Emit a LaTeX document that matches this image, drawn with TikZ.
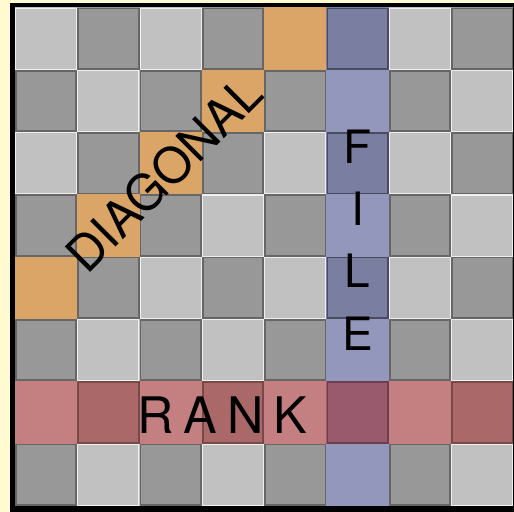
\documentclass[tikz,border=0pt]{standalone}
\usepackage{fontspec}
\setsansfont{TeX Gyre Heros}
\usepackage{xcolor}
\usepackage{tikz}
\usetikzlibrary{positioning}

\definecolor{boardbg}{RGB}{255,250,208}
\definecolor{sqlight}{RGB}{193,193,193}
\definecolor{sqdark}{RGB}{152,152,152}
\definecolor{diagorange}{RGB}{218,165,102}
\definecolor{filelightc}{RGB}{148,151,188}
\definecolor{filedarkc}{RGB}{122,126,160}
\definecolor{ranklightc}{RGB}{196,128,128}
\definecolor{rankdarkc}{RGB}{170,104,104}
\definecolor{crossc}{RGB}{154,90,110}

\begin{document}
\begin{tikzpicture}[
  lightsq/.style={fill=sqlight},
  darksq/.style={fill=sqdark},
  darkedge/.style={draw=black!60, line width=0.8pt},
  lightedge/.style={draw=white!75!sqlight, line width=0.5pt},
  diagsq/.style={fill=diagorange},
  filelight/.style={fill=filelightc},
  filedark/.style={fill=filedarkc},
  ranklight/.style={fill=ranklightc},
  rankdark/.style={fill=rankdarkc},
  crosssq/.style={fill=crossc},
  bigtxt/.style={font=\sffamily\fontsize{21}{21}\selectfont, inner sep=0pt},
  diagtxt/.style={font=\sffamily\fontsize{22.5}{22.5}\selectfont, inner sep=0pt},
  ranktxt/.style={font=\sffamily\fontsize{23}{23}\selectfont, inner sep=0pt}
]
  \useasboundingbox (-0.24,-0.096) rectangle (8.01,8.12);
  \clip (-0.24,-0.096) rectangle (8.01,8.12);

  % background and frame
  \fill[boardbg] (-0.24,-0.096) rectangle (8.01,8.12);
  \fill[black] (-0.08,-0.5) rectangle (8.5,8.07);

  % plain board
  \foreach \r in {0,...,7} {
    \foreach \c in {0,...,7} {
      \pgfmathtruncatemacro{\sqodd}{mod(\r+\c,2)}
      \ifnum\sqodd=1
        \fill[darksq] (\c,{7-\r}) rectangle ++(1,1);
        \draw[darkedge] ({\c+0.015},{7.015-\r}) rectangle ++(0.97,0.97);
      \else
        \fill[lightsq] (\c,{7-\r}) rectangle ++(1,1);
        \draw[lightedge] ({\c+0.01},{7.01-\r}) rectangle ++(0.98,0.98);
      \fi
    }
  }

  % diagonal
  \foreach \r/\c in {0/4,1/3,2/2,3/1,4/0}
    \fill[diagsq] (\c,{7-\r}) rectangle ++(1,1);

  % file
  \foreach \r in {1,3,5,7}
    \fill[filelight] (5,{7-\r}) rectangle ++(1,1);
  \foreach \r in {0,2,4} {
    \fill[filedark] (5,{7-\r}) rectangle ++(1,1);
    \draw[darkedge, draw=filedarkc!60!black] (5.015,{7.015-\r}) rectangle ++(0.97,0.97);
  }

  % rank
  \foreach \c in {0,2,4,6}
    \fill[ranklight] (\c,1) rectangle ++(1,1);
  \foreach \c in {1,3,7} {
    \fill[rankdark] (\c,1) rectangle ++(1,1);
    \draw[darkedge, draw=rankdarkc!70!black] ({\c+0.015},1.015) rectangle ++(0.97,0.97);
  }
  \fill[crosssq] (5,1) rectangle ++(1,1);
  \draw[darkedge, draw=crossc!70!black] (5.015,1.015) rectangle ++(0.97,0.97);

  % labels
  \node[diagtxt, rotate=45] (diaglbl) at (2.39,5.33) {DIAGONAL};
  \node[bigtxt] (fileF) at (5.5,5.77) {F};
  \node[bigtxt] (fileI) at (5.5,4.77) {I};
  \node[bigtxt] (fileL) at (5.5,3.77) {L};
  \node[bigtxt] (fileE) at (5.5,2.77) {E};
  \node[ranktxt] (ranklbl) at (3.33,1.46) {R\hspace{4.6pt}A\hspace{4.6pt}N\hspace{4.6pt}K};
\end{tikzpicture}
\end{document}
